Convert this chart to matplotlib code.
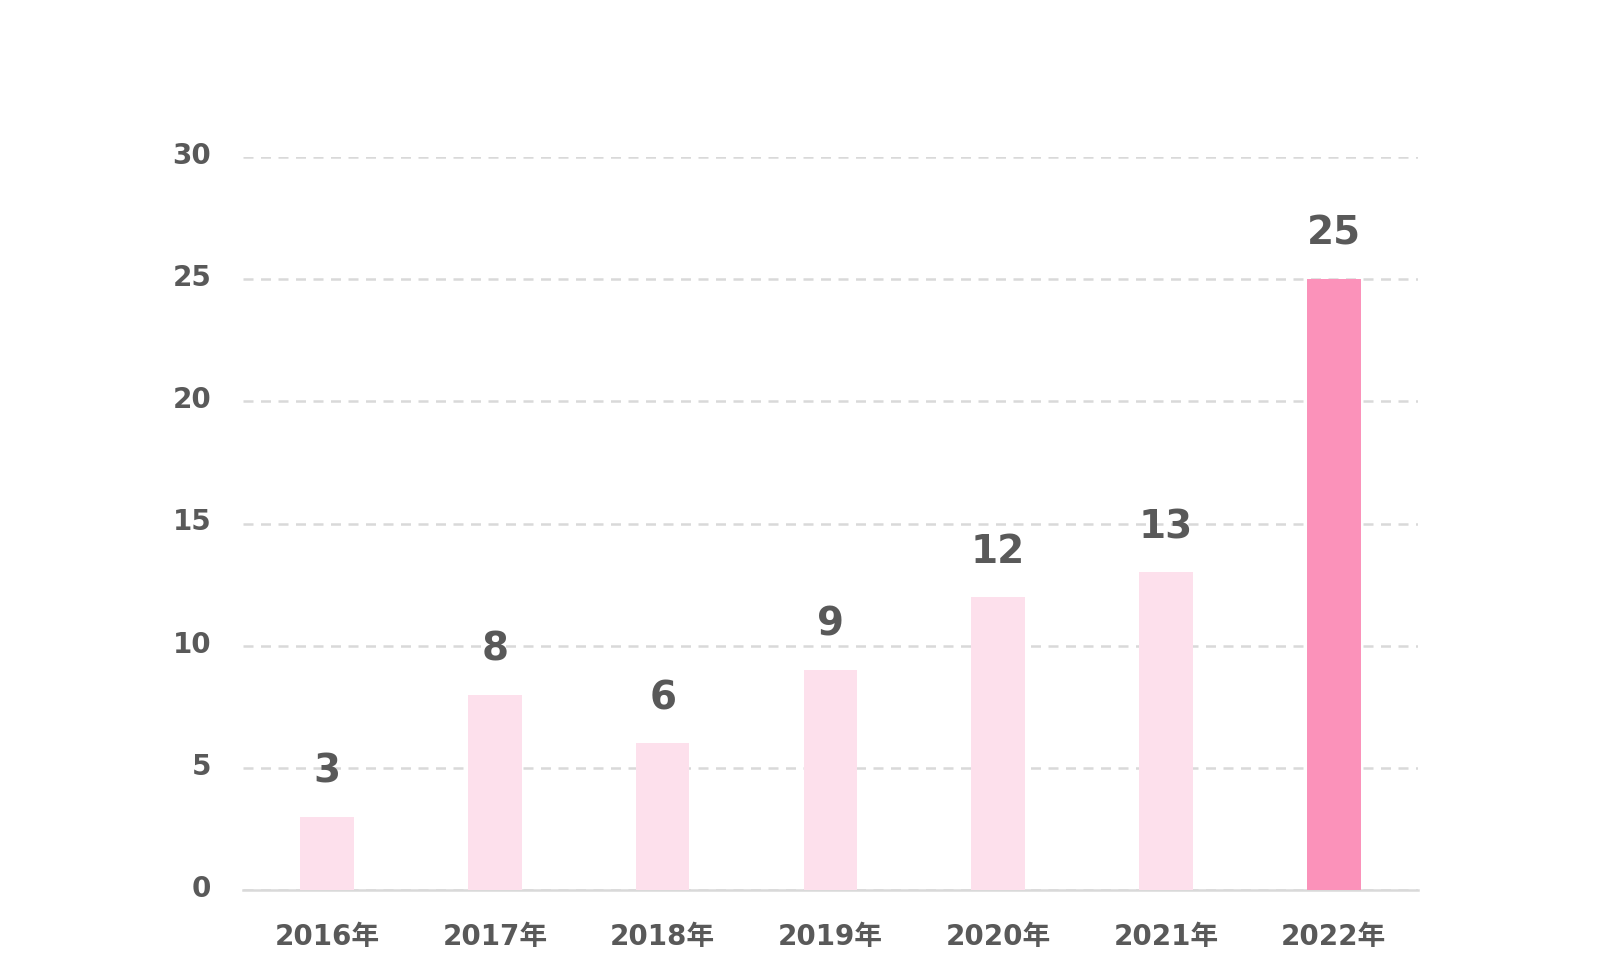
# Bar chart of yearly counts, 2016-2022

import numpy as np
import matplotlib.pyplot as plt
from matplotlib.transforms import ScaledTranslation

# Data
years = ['2016年', '2017年', '2018年', '2019年', '2020年', '2021年', '2022年']
counts = [3, 8, 6, 9, 12, 13, 25]
y_ticks = [0, 5, 10, 15, 20, 25, 30]

plt.rcParams['font.family'] = ['DejaVu Sans', 'Noto Sans CJK JP']
plt.rcParams['font.weight'] = 'bold'

text_color = '#595959'
light_pink = '#FDE0EC'
dark_pink = '#FB92BA'
grid_color = '#D9D9D9'

fig = plt.figure(figsize=(16, 9.72), dpi=100)
ax = fig.add_axes([0.152, 0.0843, 0.734, 0.754])

x = np.arange(len(years))
colors = [light_pink] * (len(years) - 1) + [dark_pink]
ax.bar(x, counts, width=0.32, color=colors, zorder=3)

# value labels above bars
for xi, v in zip(x, counts):
    ax.annotate(str(v), (xi, v), xytext=(0, 19), textcoords='offset points',
                ha='center', va='bottom', fontsize=28, fontweight='bold',
                color=text_color)

ax.set_xlim(-0.5, len(years) - 0.5)
ax.set_ylim(0, 30)
ax.set_yticks(y_ticks)
ax.set_xticks(x)
ax.set_xticklabels(years)

ax.tick_params(axis='both', length=0, labelsize=20, labelcolor=text_color)
ax.tick_params(axis='x', pad=24)
ax.tick_params(axis='y', pad=23)

# y labels sit a little above their gridline
shift = ScaledTranslation(0, 3 / 72, fig.dpi_scale_trans)
for lbl in ax.get_yticklabels():
    lbl.set_transform(lbl.get_transform() + shift)

# dashed gridlines
ax.yaxis.grid(True, color=grid_color, linestyle=(0, (4, 3)), linewidth=1.8, zorder=0)
ax.set_axisbelow(True)

for s in ['top', 'right', 'left']:
    ax.spines[s].set_visible(False)
ax.spines['bottom'].set_color(grid_color)
ax.spines['bottom'].set_linewidth(1.8)

fig.savefig('out.png', dpi=100, facecolor='white')
